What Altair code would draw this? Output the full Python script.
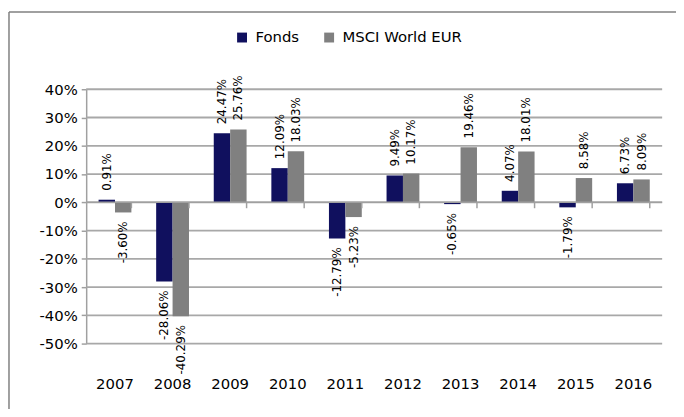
import altair as alt
import pandas as pd

years = ["2007", "2008", "2009", "2010", "2011", "2012", "2013", "2014", "2015", "2016"]
series = ["Fonds", "MSCI World EUR"]
fonds = [0.91, -28.06, 24.47, 12.09, -12.79, 9.49, -0.65, 4.07, -1.79, 6.73]
msci = [-3.60, -40.29, 25.76, 18.03, -5.23, 10.17, 19.46, 18.01, 8.58, 8.09]
y_ticks = [-50, -40, -30, -20, -10, 0, 10, 20, 30, 40]

rows = []
for i, yr in enumerate(years):
    rows.append({"year": yr, "series": series[0], "v": fonds[i], "lab": f"{fonds[i]:.2f}%"})
    rows.append({"year": yr, "series": series[1], "v": msci[i], "lab": f"{msci[i]:.2f}%"})
df = pd.DataFrame(rows)
df_years = pd.DataFrame({"year": years, "z": [0] * len(years)})
one = pd.DataFrame({"a": [0]})

FONT = "DejaVu Sans"
W, H = 582, 257
PAD = {"left": 79, "top": 80, "right": 14, "bottom": 64}

xscale = alt.Scale(paddingInner=0.43, paddingOuter=0.215)
xaxis = alt.Axis(labelAngle=0, ticks=False, domain=False, grid=False, labelPadding=33,
                 labelFont=FONT, labelFontSize=15, labelColor="#000000")
xenc = alt.X("year:N", sort=years, title=None, scale=xscale, axis=xaxis)
xoff = alt.XOffset("series:N", sort=series)
yscale = alt.Scale(domain=[-50, 40], nice=False)
yaxis = alt.Axis(values=y_ticks, labelExpr="datum.value + '%'",
                 labelOverlap=False, labelBound=False, labelFlush=False,
                 grid=False, domainColor="#a0a0a0", domainWidth=1.5,
                 tickColor="#a0a0a0", tickSize=5, tickWidth=1.5,
                 labelFont=FONT, labelFontSize=15, labelColor="#000000",
                 labelPadding=4)
yenc = alt.Y("v:Q", scale=yscale, title=None, axis=yaxis)

grid_layers = [
    alt.Chart(one).mark_rule(color="#a8a8a8", strokeWidth=1.8).encode(
        y=alt.datum(t, scale=yscale, axis=yaxis, title=None))
    for t in y_ticks
]

bars = alt.Chart(df).mark_bar().encode(
    x=xenc, xOffset=xoff, y=yenc,
    color=alt.Color("series:N", sort=series,
                    scale=alt.Scale(domain=series, range=["#10105E", "#808080"]),
                    legend=alt.Legend(title=None, orient="none", direction="horizontal",
                                      legendX=150, legendY=-60, symbolType="square",
                                      symbolSize=100, symbolStrokeWidth=0,
                                      labelFont=FONT, labelFontSize=15, labelColor="#000000",
                                      labelOffset=6, columnPadding=22)),
)

pos = alt.Chart(df).transform_filter("datum.v >= 0").mark_text(
    angle=270, align="left", baseline="middle", dx=9, font=FONT, fontSize=12, color="#000000"
).encode(x=xenc, xOffset=xoff, y=yenc, text="lab:N")

neg = alt.Chart(df).transform_filter("datum.v < 0").mark_text(
    angle=270, align="right", baseline="middle", dx=-9, font=FONT, fontSize=12, color="#000000"
).encode(x=xenc, xOffset=xoff, y=yenc, text="lab:N")

zero = alt.Chart(one).mark_rule(color="#a0a0a0", strokeWidth=1.6).encode(
    y=alt.datum(0, scale=yscale, axis=yaxis, title=None))

ticks = alt.Chart(df_years).mark_rule(color="#a0a0a0", strokeWidth=1.5, y2Offset=6).encode(
    x=alt.X("year:N", sort=years, bandPosition=1, scale=xscale, axis=xaxis, title=None),
    y=alt.Y("z:Q", scale=yscale, title=None, axis=yaxis), y2="z:Q")

border_top = alt.Chart(one).mark_rule(stroke="#808080", strokeWidth=1.5).encode(
    x=alt.value(-78), x2=alt.value(W + PAD["right"] + 5), y=alt.value(-78), y2=alt.value(-78))
border_left = alt.Chart(one).mark_rule(stroke="#808080", strokeWidth=1.5).encode(
    x=alt.value(-78), x2=alt.value(-78), y=alt.value(-78), y2=alt.value(H + PAD["bottom"] + 5))

chart = alt.layer(*grid_layers, bars, zero, ticks, pos, neg, border_top, border_left).properties(
    width=W, height=H,
    autosize=alt.AutoSizeParams(type="none"),
    padding=PAD,
).configure_view(stroke=None).configure_axis(labelFont=FONT)

chart.save("out.html", embed_options={"renderer": "svg", "actions": False})
